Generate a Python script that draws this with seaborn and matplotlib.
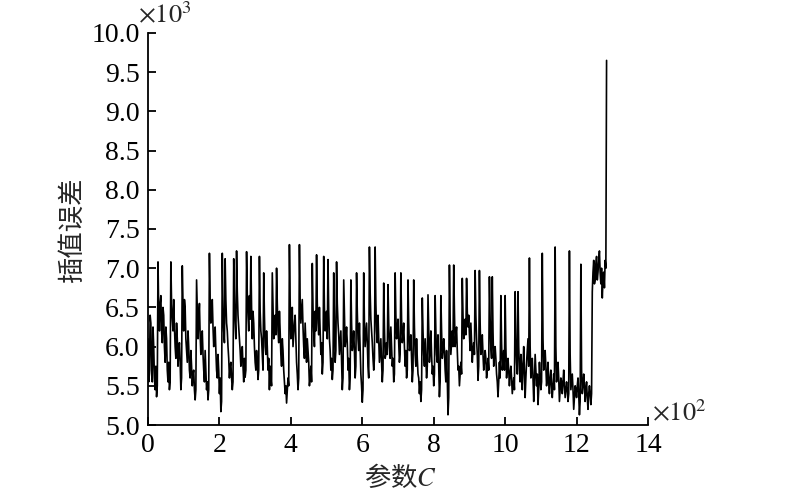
import numpy as np
import pandas as pd
import matplotlib
matplotlib.use("Agg")
import matplotlib.pyplot as plt
import seaborn as sns

# interpolation error (x10^3) read at C = 0, 4, 8, ... (units)
error_k = [
    6.10, 5.65, 6.30, 5.55, 6.00, 5.45, 5.36, 7.08, 6.20, 6.65,
    6.05, 6.40, 5.80, 6.10, 5.55, 5.45, 7.08, 6.35, 6.60, 6.00,
    6.30, 5.75, 6.05, 5.45, 7.03, 6.20, 6.50, 5.95, 6.20, 5.70,
    5.95, 5.50, 5.70, 5.32, 6.85, 6.10, 6.55, 5.90, 6.20, 5.70,
    5.95, 5.45, 5.32, 7.19, 6.30, 6.60, 6.00, 6.25, 5.70, 5.90,
    5.40, 5.17, 7.19, 6.20, 7.12, 6.30, 6.00, 5.60, 5.80, 5.45,
    7.12, 6.30, 7.22, 6.40, 6.10, 5.75, 6.00, 5.55, 5.61, 7.21,
    6.40, 6.65, 7.15, 6.10, 6.30, 5.80, 5.95, 5.58, 7.15, 6.20,
    5.90, 6.94, 6.00, 6.20, 5.70, 5.45, 5.60, 6.94, 6.10, 6.40,
    7.00, 6.20, 6.45, 5.90, 6.10, 5.70, 5.40, 5.28, 5.60, 7.30,
    6.10, 6.50, 6.15, 6.40, 5.80, 5.45, 7.30, 6.30, 6.60, 6.00,
    6.30, 5.80, 5.95, 5.50, 5.75, 7.06, 6.20, 6.45, 7.17, 6.30,
    6.50, 5.90, 5.65, 7.15, 6.20, 6.45, 7.11, 6.10, 5.70, 5.58,
    6.94, 5.80, 7.08, 6.30, 5.90, 6.20, 5.45, 6.85, 6.00, 6.25,
    5.70, 5.45, 6.85, 5.95, 6.20, 5.60, 6.94, 6.10, 6.30, 5.65,
    5.29, 6.94, 6.00, 6.30, 5.75, 7.27, 6.35, 6.05, 5.70, 7.27,
    6.20, 6.40, 5.80, 6.10, 5.55, 6.81, 5.85, 6.05, 6.79, 6.00,
    6.25, 5.75, 5.55, 6.94, 6.10, 6.35, 5.80, 6.94, 6.05, 6.30,
    5.75, 5.60, 6.85, 5.95, 6.15, 5.55, 6.85, 5.90, 6.10, 5.65,
    5.40, 5.30, 6.62, 5.90, 6.10, 5.60, 6.66, 5.80, 6.20, 5.65,
    5.50, 6.65, 5.90, 6.15, 5.36, 6.65, 5.85, 6.10, 5.70, 5.95,
    5.13, 7.04, 5.90, 6.20, 7.04, 6.00, 6.25, 5.70, 5.50, 5.80,
    6.87, 6.10, 6.35, 6.87, 6.25, 6.15, 6.30, 5.80, 6.05, 6.97,
    6.10, 5.57, 6.97, 5.90, 6.15, 5.70, 5.95, 5.60, 5.85, 6.89,
    6.00, 6.89, 5.75, 6.00, 5.65, 5.36, 5.80, 6.65, 5.70, 5.95,
    6.65, 5.60, 5.85, 5.50, 5.75, 5.40, 5.60, 6.70, 5.80, 6.70,
    5.70, 5.90, 5.45, 6.00, 5.35, 5.80, 6.10, 7.13, 5.60, 5.85,
    5.30, 5.90, 5.50, 5.26, 5.80, 5.45, 7.19, 5.70, 5.95, 5.50,
    5.80, 5.40, 5.70, 5.35, 5.65, 7.27, 5.55, 5.80, 5.30, 5.60,
    5.40, 5.70, 5.35, 5.55, 5.30, 7.22, 5.45, 5.65, 5.20, 5.50,
    5.35, 5.60, 5.13, 7.05, 5.40, 5.65, 5.30, 5.55, 5.20, 5.50,
    5.26, 6.70, 7.10, 6.85, 7.15, 6.95, 7.22, 6.80, 6.62, 6.95,
    7.10, 9.65,
]
# interpolation error (x10^3) read at C = 2, 6, 10, ... (units)
error_k_mid = [
    5.55, 6.40, 5.70, 6.25, 5.60, 5.75, 5.50, 6.45, 6.55, 6.20,
    6.50, 6.00, 6.25, 5.70, 5.80, 5.55, 6.55, 6.20, 6.25, 5.85,
    6.10, 5.95, 5.80, 5.60, 6.55, 6.60, 6.10, 5.80, 6.00, 5.60,
    5.75, 5.65, 5.45, 5.45, 6.50, 6.35, 6.15, 6.10, 5.90, 5.55,
    5.70, 5.55, 5.45, 6.60, 6.50, 6.25, 6.15, 5.95, 5.60, 5.70,
    5.60, 5.30, 6.50, 6.05, 6.60, 6.20, 5.85, 5.75, 5.60, 5.55,
    6.55, 6.10, 6.70, 6.25, 5.95, 5.90, 5.75, 5.85, 5.70, 6.65,
    6.20, 6.35, 6.50, 6.45, 6.00, 5.70, 5.80, 5.70, 6.45, 6.10,
    5.70, 6.40, 5.90, 6.00, 5.85, 5.75, 5.50, 6.50, 6.20, 6.15,
    6.55, 6.05, 6.20, 5.75, 5.95, 5.55, 5.50, 5.45, 5.50, 6.60,
    6.35, 6.00, 6.30, 6.10, 5.65, 5.60, 6.60, 6.45, 6.25, 5.85,
    6.05, 6.10, 5.80, 5.60, 5.55, 6.50, 6.00, 6.20, 6.55, 6.15,
    6.20, 6.05, 5.80, 6.50, 6.35, 6.10, 6.45, 5.95, 5.85, 5.70,
    6.30, 5.95, 6.55, 6.15, 6.05, 5.80, 5.60, 6.40, 6.10, 6.05,
    5.85, 5.60, 6.30, 6.05, 5.95, 5.75, 6.45, 5.95, 5.95, 5.50,
    5.45, 6.30, 6.15, 6.05, 5.60, 6.70, 6.20, 5.85, 5.85, 6.55,
    6.05, 6.10, 5.95, 5.80, 5.70, 6.25, 5.90, 5.90, 6.30, 5.85,
    6.00, 5.85, 5.65, 6.40, 6.20, 6.05, 5.90, 6.35, 6.15, 6.00,
    5.95, 5.70, 6.30, 6.00, 5.85, 5.70, 6.25, 5.75, 5.85, 5.60,
    5.55, 5.45, 6.20, 5.75, 5.85, 5.75, 6.20, 5.95, 5.90, 5.75,
    5.65, 6.20, 5.80, 5.75, 5.55, 6.20, 5.95, 5.95, 5.55, 5.60,
    5.35, 6.35, 6.05, 6.00, 6.45, 6.15, 5.95, 5.75, 5.65, 5.65,
    6.40, 6.20, 6.15, 6.45, 6.40, 5.95, 6.05, 5.95, 5.90, 6.40,
    5.90, 5.75, 6.30, 5.95, 5.90, 5.80, 5.85, 5.70, 5.70, 6.35,
    5.85, 6.20, 5.90, 5.85, 5.55, 5.55, 5.60, 6.05, 5.80, 5.70,
    6.00, 5.75, 5.70, 5.65, 5.60, 5.50, 5.45, 6.10, 5.65, 6.00,
    5.55, 5.75, 5.75, 5.65, 5.60, 5.95, 5.75, 6.00, 5.75, 5.60,
    5.55, 5.70, 5.65, 5.45, 5.60, 5.55, 6.10, 5.80, 5.75, 5.60,
    5.55, 5.60, 5.50, 5.50, 5.45, 6.00, 5.65, 5.60, 5.45, 5.55,
    5.55, 5.50, 5.45, 5.45, 5.40, 5.90, 5.55, 5.45, 5.35, 5.45,
    5.50, 5.40, 5.30, 5.70, 5.50, 5.50, 5.45, 5.35, 5.40, 5.40,
    5.40, 6.95, 6.80, 7.05, 6.85, 7.10, 6.95, 7.00, 6.85, 6.75,
    7.00,
]
c_step = 2
x_ticks = [0, 2, 4, 6, 8, 10, 12, 14]
y_ticks = [5.0, 5.5, 6.0, 6.5, 7.0, 7.5, 8.0, 8.5, 9.0, 9.5, 10.0]
x_label_cn = "参数"
x_label_var = "C"
y_label = "插值误差"

err = np.empty(len(error_k) + len(error_k_mid))
err[0::2] = error_k
err[1::2] = error_k_mid
c_vals = np.arange(len(err)) * c_step
df = pd.DataFrame({"C": c_vals / 100.0, "err": err})

sns.set_style("ticks")
plt.rcParams["font.family"] = ["Liberation Serif", "Noto Sans CJK SC", "DejaVu Sans"]
plt.rcParams["mathtext.fontset"] = "stix"

fig = plt.figure(figsize=(8.0, 4.95), dpi=100)
ax = fig.add_axes([0.185, 0.1414, 0.625, 0.792])

sns.lineplot(data=df, x="C", y="err", ax=ax, color="black", linewidth=1.2,
             estimator=None, sort=False)

ax.set_xlim(0, 14)
ax.set_ylim(5.0, 10.0)
ax.set_xticks(x_ticks)
ax.set_xticklabels([str(t) for t in x_ticks])
ax.set_yticks(y_ticks)
ax.set_yticklabels([f"{t:.1f}" for t in y_ticks])
ax.tick_params(direction="in", length=6, width=1.3, labelsize=20, colors="black")
ax.tick_params(axis="x", pad=6)
ax.tick_params(axis="y", pad=6)
for lab in ax.get_xticklabels() + ax.get_yticklabels():
    lab.set_fontfamily("Liberation Serif")

for s in ["top", "right"]:
    ax.spines[s].set_visible(False)
for s in ["left", "bottom"]:
    ax.spines[s].set_linewidth(1.3)
    ax.spines[s].set_color("black")

ax.set_xlabel("")
ax.set_ylabel("")

fig.text(0.50, 0.035, x_label_cn + r"$\mathit{" + x_label_var + "}$",
         ha="center", va="center", fontsize=19,
         family=["Noto Sans CJK SC", "DejaVu Sans"])
fig.text(0.09, 0.535, y_label, ha="center", va="center", fontsize=19,
         rotation=90, family=["Noto Sans CJK SC", "DejaVu Sans"])

fig.text(0.172, 0.97, r"$\times 10^{3}$", ha="left", va="center", fontsize=19)
fig.text(0.815, 0.165, r"$\times 10^{2}$", ha="left", va="center", fontsize=19)

fig.savefig("out.png", dpi=100)
